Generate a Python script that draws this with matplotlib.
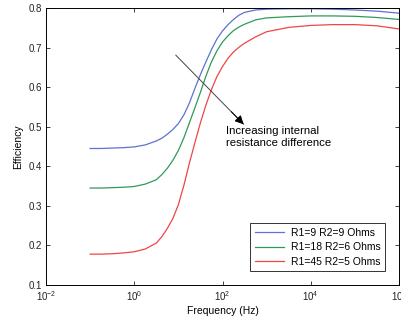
import numpy as np
import matplotlib
matplotlib.use("Agg")
from matplotlib import pyplot as plt
from matplotlib.ticker import FormatStrFormatter, NullLocator

plt.rcParams['font.family'] = ['Liberation Sans', 'DejaVu Sans']
plt.rcParams['mathtext.default'] = 'regular'

# log10 of frequency (Hz)
log_freq = [-1, -0.75, -0.5, -0.25, 0, 0.25, 0.5, 0.625, 0.75, 0.875, 1.0, 1.125,
            1.25, 1.375, 1.5, 1.625, 1.75, 1.875, 2.0, 2.125, 2.25, 2.375, 2.5,
            2.75, 3.0, 3.5, 4.0, 4.5, 5.0, 5.5, 6.0]

eff_9_9 = [0.445, 0.445, 0.446, 0.447, 0.449, 0.454, 0.464, 0.471, 0.481, 0.493, 0.508, 0.530,
           0.560, 0.597, 0.632, 0.664, 0.695, 0.722, 0.742, 0.758, 0.771, 0.782, 0.789,
           0.795, 0.797, 0.798, 0.798, 0.797, 0.795, 0.792, 0.787]
eff_18_6 = [0.345, 0.345, 0.346, 0.347, 0.349, 0.355, 0.366, 0.379, 0.395, 0.415, 0.440, 0.472,
            0.510, 0.548, 0.587, 0.628, 0.664, 0.692, 0.714, 0.730, 0.743, 0.752, 0.759,
            0.770, 0.775, 0.778, 0.780, 0.780, 0.779, 0.776, 0.771]
eff_45_5 = [0.178, 0.178, 0.179, 0.181, 0.184, 0.191, 0.206, 0.222, 0.243, 0.268, 0.303, 0.352,
            0.408, 0.460, 0.510, 0.555, 0.594, 0.627, 0.652, 0.673, 0.689, 0.701, 0.711,
            0.727, 0.740, 0.751, 0.756, 0.758, 0.758, 0.755, 0.747]

labels = ['R1=9 R2=9 Ohms', 'R1=18 R2=6 Ohms', 'R1=45 R2=5 Ohms']
colors = ['#5b73d1', '#2f9a5a', '#f04545']

freq = 10.0 ** np.array(log_freq)

fig = plt.figure(figsize=(4.01, 3.24), dpi=100, facecolor='white')
ax = fig.add_axes([46 / 401, 1 - 285 / 324, 353 / 401, 277 / 324])

for y, lab, c in zip([eff_9_9, eff_18_6, eff_45_5], labels, colors):
    ax.plot(freq, y, color=c, linewidth=0.9, label=lab)

ax.set_xscale('log')
ax.set_xlim(1e-2, 1e6)
ax.set_ylim(0.1, 0.8)
ax.set_xticks([1e-2, 1e0, 1e2, 1e4, 1e6])
ax.xaxis.set_minor_locator(NullLocator())
ax.set_yticks(np.arange(0.1, 0.81, 0.1))
ax.yaxis.set_major_formatter(FormatStrFormatter('%.1f'))
ax.tick_params(direction='in', top=True, right=True, length=3, width=0.6,
               labelsize=7, colors='#222222', pad=3)
for sp in ax.spines.values():
    sp.set_linewidth(0.7)

ax.set_xlabel('Frequency (Hz)', fontsize=7.5, labelpad=2)
ax.set_ylabel('Efficiency', fontsize=7.5, labelpad=4)

# arrow: dark grey shaft, black head
ax.annotate('', xy=(10 ** 2.48, 0.506), xytext=(10 ** 0.94, 0.681),
            arrowprops=dict(arrowstyle='-', color='#444444', lw=0.7,
                            shrinkA=0, shrinkB=0))
ax.annotate('', xy=(10 ** 2.48, 0.506), xytext=(10 ** 2.2, 0.538),
            arrowprops=dict(arrowstyle='-|>', color='black', lw=0.7,
                            mutation_scale=13, shrinkA=0, shrinkB=0))
ax.text(10 ** 2.07, 0.474, 'Increasing internal\nresistance difference',
        fontsize=8.2, ha='left', va='center', linespacing=1.25)

leg = ax.legend(loc='lower right', bbox_to_anchor=(0.960, 0.05), fontsize=7.5,
                frameon=True, fancybox=False, edgecolor='black',
                handlelength=2.8, handletextpad=0.7, borderpad=0.4,
                labelspacing=0.45, borderaxespad=0)
leg.get_frame().set_linewidth(0.7)

fig.savefig('out.png', dpi=100)
